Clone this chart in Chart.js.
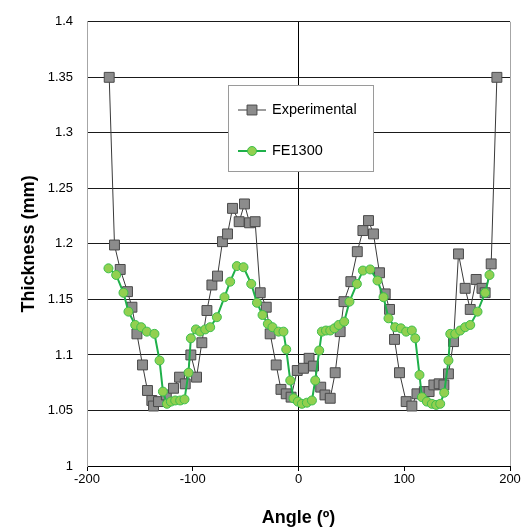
<!DOCTYPE html>
<html>
<head>
<meta charset="utf-8">
<script src="https://cdn.jsdelivr.net/npm/chart.js@4"></script>
<style>
  body { margin: 0; background: #fff; }
  #wrap { width: 532px; height: 529px; }
</style>
</head>
<body>
<div id="wrap"><canvas id="myChart"></canvas></div>
<script>
// measured thickness around the ring
const expAngle = [-179, -174, -168.6, -161.7, -157.5, -152.8, -147.5, -142.8, -138.7, -137.1,
  -132.4, -125, -118.2, -112.5, -107.1, -101.8, -96.4, -91.4, -86.6, -81.9,
  -76.6, -71.9, -67.1, -62.4, -56.1, -51.1, -46.3, -41, -36.2, -30.5,
  -26.8, -21.1, -16.6, -11.6, -7, -1.2, 4.7, 10, 14.2, 21,
  25, 30, 34.7, 39.4, 43, 49.5, 55.6, 60.9, 66.2, 70.9,
  76.6, 82, 86.1, 90.8, 95.5, 101.8, 107.2, 112, 119, 123.5,
  128, 133, 137.5, 141.8, 146.6, 151.3, 157.6, 162.4, 168, 173.5,
  176.5, 182.2, 187.6];
const expThickness = [1.350, 1.199, 1.177, 1.157, 1.143, 1.119, 1.091, 1.068, 1.059, 1.054,
  1.058, 1.064, 1.070, 1.080, 1.074, 1.100, 1.080, 1.111, 1.140, 1.163,
  1.171, 1.202, 1.209, 1.232, 1.220, 1.236, 1.219, 1.220, 1.156, 1.143,
  1.119, 1.091, 1.069, 1.065, 1.062, 1.086, 1.088, 1.097, 1.090, 1.071,
  1.064, 1.061, 1.084, 1.121, 1.148, 1.166, 1.193, 1.212, 1.221, 1.209,
  1.174, 1.155, 1.141, 1.114, 1.084, 1.058, 1.054, 1.065, 1.067, 1.067,
  1.073, 1.074, 1.073, 1.083, 1.112, 1.191, 1.160, 1.141, 1.168, 1.160,
  1.156, 1.182, 1.350];

// FE1300 simulation
const feAngle = [-179.7, -172.4, -165.5, -160.8, -154.4, -148.7, -143.4, -136.2, -131.4, -128.2,
  -124.4, -120.7, -116.6, -111.9, -107.8, -104, -101.8, -97, -93, -88.2,
  -83.5, -77.2, -70, -64.6, -58.3, -52, -44.7, -39.3, -34, -29,
  -24.6, -18.9, -14.2, -11.6, -7.8, -4.7, -0.6, 3.2, 7.9, 12.7,
  15.8, 19.6, 22.1, 26, 30, 34, 38, 43.2, 48.2, 55.2,
  60.9, 67.8, 74.7, 80.4, 85.1, 91.4, 96.8, 101.8, 107.2, 110.4,
  114.4, 116.7, 121.4, 126.1, 130.2, 134, 137.8, 141.8, 143.5, 148.2,
  152.9, 157.6, 162.4, 169.3, 176.5, 180.6];
const feThickness = [1.178, 1.172, 1.156, 1.139, 1.127, 1.125, 1.121, 1.119, 1.095, 1.067,
  1.056, 1.058, 1.059, 1.059, 1.060, 1.084, 1.115, 1.123, 1.121, 1.123,
  1.125, 1.134, 1.152, 1.166, 1.180, 1.179, 1.164, 1.147, 1.136, 1.128,
  1.125, 1.121, 1.121, 1.105, 1.077, 1.061, 1.058, 1.056, 1.057, 1.059,
  1.077, 1.104, 1.121, 1.122, 1.122, 1.124, 1.127, 1.130, 1.148, 1.164,
  1.176, 1.177, 1.167, 1.152, 1.133, 1.125, 1.124, 1.121, 1.122, 1.115,
  1.082, 1.062, 1.058, 1.056, 1.055, 1.056, 1.066, 1.095, 1.119, 1.119,
  1.122, 1.125, 1.127, 1.139, 1.156, 1.172];

const xTicks = [-200, -100, 0, 100, 200];
const yTicks = [1, 1.05, 1.1, 1.15, 1.2, 1.25, 1.3, 1.35, 1.4];

const toPoints = (xs, ys) => xs.map((x, i) => ({ x: x, y: ys[i] }));

const FONT = "'Liberation Sans', Arial, sans-serif";
Chart.defaults.font.family = FONT;
Chart.defaults.color = '#000';

// legend box drawn inside the plot
const boxLegend = {
    id: 'boxLegend',
    afterDraw(chart) {
        const c = chart.ctx;
        c.save();
        c.fillStyle = '#fff';
        c.fillRect(228, 85, 145, 86);
        c.strokeStyle = '#9a9a9a';
        c.lineWidth = 1;
        c.strokeRect(228.5, 85.5, 145, 86);
        chart.data.datasets.forEach((ds, i) => {
            const y = 110 + i * 41;
            c.strokeStyle = ds.borderColor;
            c.lineWidth = ds.borderWidth;
            c.beginPath();
            c.moveTo(238, y);
            c.lineTo(266, y);
            c.stroke();
            c.fillStyle = ds.pointBackgroundColor;
            c.strokeStyle = ds.pointBorderColor;
            c.lineWidth = ds.pointBorderWidth;
            c.beginPath();
            if (ds.pointStyle === 'rect') {
                const s = Math.SQRT1_2 * ds.pointRadius;
                c.rect(252 - s, y - s, 2 * s, 2 * s);
            } else {
                c.arc(252, y, ds.pointRadius, 0, Math.PI * 2);
            }
            c.fill();
            c.stroke();
            c.fillStyle = '#000';
            c.font = '14.5px ' + FONT;
            c.textBaseline = 'middle';
            c.fillText(ds.label, 272, y);
        });
        c.restore();
    }
};

const ctx = document.getElementById('myChart');
new Chart(ctx, {
    type: 'line',
    data: {
        datasets: [{
            label: 'Experimental',
            data: toPoints(expAngle, expThickness),
            borderColor: '#3a3a3a',
            borderWidth: 1,
            pointStyle: 'rect',
            pointRadius: 7,
            pointHoverRadius: 7,
            pointBackgroundColor: '#8c8c8c',
            pointBorderColor: '#4a4a4a',
            pointBorderWidth: 1,
            tension: 0,
            order: 2
        }, {
            label: 'FE1300',
            data: toPoints(feAngle, feThickness),
            borderColor: '#1fb04a',
            borderWidth: 2,
            pointStyle: 'circle',
            pointRadius: 4.5,
            pointHoverRadius: 4.5,
            pointBackgroundColor: '#92d050',
            pointBorderColor: '#3cbf4c',
            pointBorderWidth: 1,
            tension: 0,
            order: 1
        }]
    },
    options: {
        responsive: true,
        maintainAspectRatio: false,
        animation: false,
        layout: {
            padding: { left: 0, right: 22, top: 21, bottom: 0 }
        },
        plugins: {
            legend: { display: false },
            tooltip: { enabled: false }
        },
        scales: {
            x: {
                type: 'linear',
                min: -200,
                max: 200,
                afterBuildTicks: (s) => { s.ticks = xTicks.map(v => ({ value: v })); },
                afterFit: (s) => { s.height = 63; },
                ticks: {
                    font: { size: 13 },
                    padding: 1,
                    maxRotation: 0
                },
                grid: {
                    color: (c) => c.tick.value === 0 ? '#000' : (Math.abs(c.tick.value) === 200 ? '#a6a6a6' : 'rgba(0,0,0,0)'),
                    tickColor: '#000',
                    tickLength: 5,
                    lineWidth: 1
                },
                border: { color: '#000', width: 1 },
                title: {
                    display: true,
                    text: 'Angle (º)',
                    font: { size: 18, weight: 'bold' },
                    padding: { top: 10, bottom: 0 }
                }
            },
            y: {
                min: 1,
                max: 1.4,
                afterBuildTicks: (s) => { s.ticks = yTicks.map(v => ({ value: v })); },
                afterFit: (s) => { s.width = 87; },
                ticks: {
                    font: { size: 13 },
                    padding: 14,
                    callback: (v) => String(+v.toFixed(2))
                },
                grid: {
                    color: '#1a1a1a',
                    drawTicks: false,
                    lineWidth: 1
                },
                border: { color: '#a6a6a6', width: 1 },
                title: {
                    display: true,
                    text: 'Thickness (mm)',
                    font: { size: 18, weight: 'bold' },
                    padding: { top: 18, bottom: 0 }
                }
            }
        }
    },
    plugins: [boxLegend]
});
</script>
</body>
</html>
